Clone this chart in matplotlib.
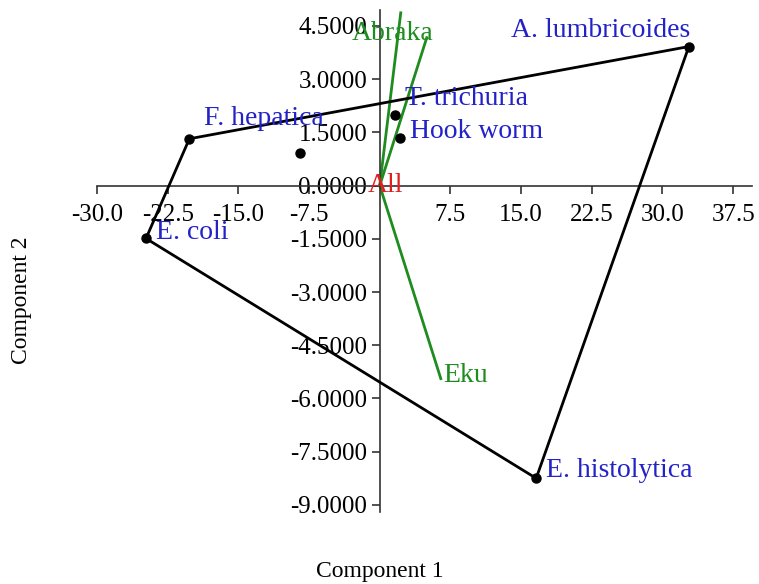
import matplotlib
matplotlib.use('Agg')
import matplotlib.pyplot as plt

# FILE OUTPUT

SAVED_FILE = 'out.png'
FIG_SIZE = [7.59, 5.84]

# VISUAL PARAMETERS

FONT = 'Liberation Serif'
TICK_FONTSIZE = 18
LABEL_FONTSIZE = 20
AXIS_FONTSIZE = 17

HULL_COLOUR = 'black'
VECTOR_COLOUR = '#1f8c1f'
NAME_COLOUR = '#2222c8'
GROUP_COLOUR = '#e02020'

X_LIM = [-30, 39.5]
Y_LIM = [-9.2, 4.95]

# DATA

species = ['A. lumbricoides', 'E. histolytica', 'E. coli', 'F. hepatica', '', 'T. trichuria', 'Hook worm']
comp1 = [32.8, 16.6, -24.8, -20.2, -8.5, 1.6, 2.2]
comp2 = [3.92, -8.25, -1.49, 1.32, 0.93, 2.0, 1.35]

# convex hull, by index into the species list
hull_order = [0, 3, 2, 1, 0]

# variable loadings (biplot vectors)
vector_x = [2.23, 4.99, 6.48]
vector_y = [4.87, 4.17, -5.44]

x_ticks = [-30.0, -22.5, -15.0, -7.5, 7.5, 15.0, 22.5, 30.0, 37.5]
y_ticks = [4.5, 3.0, 1.5, 0.0, -1.5, -3.0, -4.5, -6.0, -7.5, -9.0]


# CODE

plt.rcParams['font.family'] = FONT
fig = plt.figure(figsize=FIG_SIZE, dpi=100)
ax = fig.add_axes([97 / 759, 1 - 512 / 584, 655 / 759, 502 / 584])

ax.set_xlim(X_LIM)
ax.set_ylim(Y_LIM)

# axes crossing at the origin
ax.spines['left'].set_position(('data', 0))
ax.spines['bottom'].set_position(('data', 0))
ax.spines['right'].set_visible(False)
ax.spines['top'].set_visible(False)
for s in ['left', 'bottom']:
    ax.spines[s].set_color('#333333')
    ax.spines[s].set_linewidth(1.2)

ax.set_xticks(x_ticks)
ax.set_xticklabels(['%.1f' % v for v in x_ticks])
ax.set_yticks(y_ticks)
ax.set_yticklabels(['%.4f' % v for v in y_ticks])
ax.tick_params(axis='x', direction='out', length=6, width=1.2, color='#333333', pad=7, labelsize=TICK_FONTSIZE)
ax.tick_params(axis='y', direction='out', length=6, width=1.2, color='#333333', pad=3, labelsize=TICK_FONTSIZE)

# vectors from the origin
for vx, vy in zip(vector_x, vector_y):
    ax.plot([0, vx], [0, vy], color=VECTOR_COLOUR, linewidth=2.0, zorder=2)

# convex hull
ax.plot([comp1[i] for i in hull_order], [comp2[i] for i in hull_order],
        color=HULL_COLOUR, linewidth=2.0, zorder=3)
ax.plot(comp1, comp2, 'o', color='black', markersize=6.5, zorder=4)

# species names
ax.text(32.9, 4.37, species[0], color=NAME_COLOUR, fontsize=LABEL_FONTSIZE, ha='right', va='center', zorder=5)
ax.text(17.6, -8.03, species[1], color=NAME_COLOUR, fontsize=LABEL_FONTSIZE, ha='left', va='center', zorder=5)
ax.text(-23.7, -1.32, species[2], color=NAME_COLOUR, fontsize=LABEL_FONTSIZE, ha='left', va='center', zorder=5)
ax.text(-18.6, 1.9, species[3], color=NAME_COLOUR, fontsize=LABEL_FONTSIZE, ha='left', va='center', zorder=5)
ax.text(2.65, 2.45, species[5], color=NAME_COLOUR, fontsize=LABEL_FONTSIZE, ha='left', va='center', zorder=5)
ax.text(3.18, 1.52, species[6], color=NAME_COLOUR, fontsize=LABEL_FONTSIZE, ha='left', va='center', zorder=5)

# vector and group labels
ax.text(1.4, 4.3, 'Abraka', color=VECTOR_COLOUR, fontsize=LABEL_FONTSIZE, ha='center', va='center', zorder=5)
ax.text(6.7, -5.35, 'Eku', color=VECTOR_COLOUR, fontsize=LABEL_FONTSIZE, ha='left', va='center', zorder=5)
ax.text(0.6, 0.0, 'All', color=GROUP_COLOUR, fontsize=LABEL_FONTSIZE, ha='center', va='center', zorder=5)

fig.text(380 / 759, 1 - 572 / 584, 'Component 1', fontsize=AXIS_FONTSIZE, ha='center', va='center')
fig.text(22 / 759, 1 - 300 / 584, 'Component 2', fontsize=AXIS_FONTSIZE, ha='center', va='center', rotation=90)

plt.savefig(SAVED_FILE, dpi=100)
